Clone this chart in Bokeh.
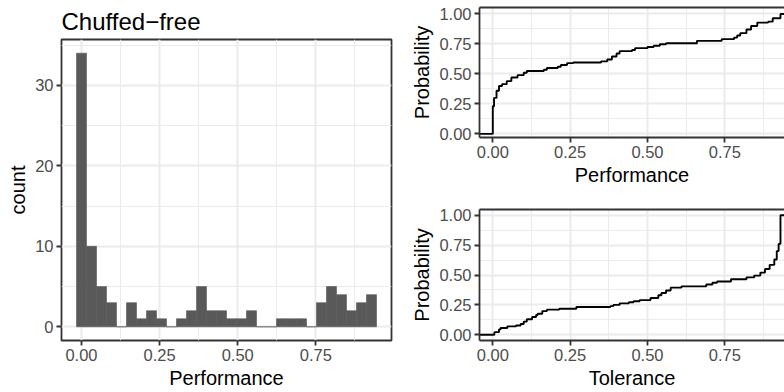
from bokeh.plotting import figure
from bokeh.layouts import row, column
from bokeh.models import Range1d, FixedTicker, LinearAxis, NumeralTickFormatter
from bokeh.embed import file_html
from bokeh.resources import INLINE

FONT = "Liberation Sans"
GRID = "#EBEBEB"
BORDER = "#333333"
TICKTXT = "#4D4D4D"
BAR = "#595959"

# ---------------- data ----------------
title_text = "Chuffed\u2212free"
hist_bin_width = 0.032
hist_first_center = 0.0
hist_counts = [34, 10, 5, 3, 0, 3, 1, 2, 1, 0,
               1, 2, 5, 2, 2, 1, 1, 2, 0, 0,
               1, 1, 1, 0, 3, 5, 4, 2, 3, 4]

perf_ecdf_x = [-0.2, 0.0, 0.004, 0.012, 0.02, 0.03, 0.045, 0.06, 0.08, 0.10,
               0.11, 0.165, 0.175, 0.21, 0.22, 0.24, 0.26, 0.35, 0.37, 0.385,
               0.40, 0.41, 0.45, 0.46, 0.50, 0.52, 0.54, 0.56, 0.66, 0.74,
               0.78, 0.79, 0.80, 0.82, 0.835, 0.855, 0.89, 0.905, 0.93, 1.2]
perf_ecdf_y = [0.0, 0.23, 0.30, 0.36, 0.40, 0.415, 0.44, 0.47, 0.49, 0.51,
               0.525, 0.535, 0.55, 0.56, 0.575, 0.59, 0.596, 0.605, 0.62, 0.645,
               0.67, 0.69, 0.70, 0.715, 0.725, 0.735, 0.748, 0.756, 0.776, 0.79,
               0.803, 0.82, 0.84, 0.87, 0.90, 0.928, 0.936, 0.964, 1.0, 1.0]

tol_ecdf_x = [-0.2, 0.005, 0.02, 0.025, 0.047, 0.075, 0.09, 0.10, 0.11, 0.127,
              0.14, 0.145, 0.16, 0.175, 0.215, 0.27, 0.38, 0.39, 0.41, 0.44,
              0.455, 0.475, 0.51, 0.535, 0.545, 0.56, 0.575, 0.61, 0.69, 0.71,
              0.725, 0.77, 0.82, 0.845, 0.865, 0.88, 0.895, 0.91, 0.918, 0.924,
              0.93, 1.2]
tol_ecdf_y = [0.0, 0.022, 0.045, 0.056, 0.07, 0.078, 0.09, 0.11, 0.13, 0.148,
              0.165, 0.176, 0.198, 0.21, 0.218, 0.232, 0.24, 0.25, 0.263, 0.272,
              0.28, 0.29, 0.307, 0.33, 0.35, 0.37, 0.394, 0.405, 0.42, 0.435,
              0.445, 0.465, 0.48, 0.495, 0.52, 0.55, 0.585, 0.63, 0.70, 0.76,
              1.0, 1.0]

perf_ticks = [0.0, 0.25, 0.5, 0.75]
perf_minor = [0.125, 0.375, 0.625, 0.875]
count_ticks = [0, 10, 20, 30]
count_minor = [5, 15, 25, 35]
prob_ticks = [0.0, 0.25, 0.5, 0.75, 1.0]
prob_minor = [0.125, 0.375, 0.625, 0.875]


def style_axes(p, xlabel, ylabel, xt, xm, yt, ym, xfmt, yfmt, axis_line=True):
    p.background_fill_color = "white"
    p.border_fill_color = "white"
    p.xaxis.ticker = FixedTicker(ticks=xt, minor_ticks=xm)
    p.yaxis.ticker = FixedTicker(ticks=yt, minor_ticks=ym)
    p.xaxis.formatter = NumeralTickFormatter(format=xfmt)
    p.yaxis.formatter = NumeralTickFormatter(format=yfmt)
    p.xaxis.axis_label = xlabel
    p.yaxis.axis_label = ylabel
    for ax in [p.xaxis[0], p.yaxis[0]]:
        ax.axis_label_text_font = FONT
        ax.axis_label_text_font_size = "20px"
        ax.axis_label_text_font_style = "normal"
        ax.axis_label_text_color = "black"
        ax.axis_label_standoff = 3
        ax.major_label_text_font = FONT
        ax.major_label_text_font_size = "16.5px"
        ax.major_label_text_color = TICKTXT
        ax.major_label_standoff = 3
        ax.major_tick_in = 0
        ax.major_tick_out = 5
        ax.major_tick_line_color = BORDER
        ax.major_tick_line_width = 1.8
        ax.minor_tick_in = 0
        ax.minor_tick_out = 0
        ax.minor_tick_line_color = None
        if axis_line:
            ax.axis_line_color = BORDER
            ax.axis_line_width = 1.8
        else:
            ax.axis_line_color = None
    for g in [p.xgrid[0], p.ygrid[0]]:
        g.grid_line_color = GRID
        g.grid_line_width = 2
        g.minor_grid_line_color = GRID
        g.minor_grid_line_width = 1


# ---------------- left: histogram ----------------
left_edges = [hist_first_center + i * hist_bin_width - hist_bin_width / 2 for i in range(len(hist_counts))]
right_edges = [e + hist_bin_width for e in left_edges]

p1 = figure(width=400, height=392, output_backend="svg", toolbar_location=None,
            x_range=Range1d(-0.064, 0.992), y_range=Range1d(-1.7, 35.7),
            min_border_left=61, min_border_right=9, min_border_top=39, min_border_bottom=52)
p1.quad(left=left_edges, right=right_edges, bottom=0, top=hist_counts,
        fill_color=BAR, line_color=BAR, line_width=0.6)
style_axes(p1, "Performance", "count", perf_ticks, perf_minor, count_ticks, count_minor,
           "0.00", "0", axis_line=False)
p1.outline_line_color = BORDER
p1.outline_line_width = 1.8
p1.title.text = title_text
p1.title.text_font = FONT
p1.title.text_font_size = "24px"
p1.title.text_font_style = "normal"
p1.title.text_color = "black"
p1.title.align = "left"
p1.title.standoff = 10


def ecdf_fig(xs, ys, xlabel, top_border, bottom_border, yr):
    p = figure(width=384, height=196, output_backend="svg", toolbar_location=None,
               x_range=Range1d(-0.043, 0.943), y_range=Range1d(*yr),
               min_border_left=79, min_border_right=0,
               min_border_top=top_border, min_border_bottom=bottom_border)
    p.step(xs, ys, mode="after", line_color="black", line_width=1.9)
    style_axes(p, xlabel, "Probability", perf_ticks, perf_minor, prob_ticks, prob_minor,
               "0.00", "0.00", axis_line=True)
    p.outline_line_color = None
    top_ax = LinearAxis(ticker=FixedTicker(ticks=[]), major_label_text_font_size="0px",
                        axis_line_color=BORDER, axis_line_width=1.8,
                        major_tick_out=0, minor_tick_out=0, major_label_standoff=0)
    p.add_layout(top_ax, "above")
    return p


p2 = ecdf_fig(perf_ecdf_x, perf_ecdf_y, "Performance", 7, 59, (-0.03, 1.054))
p3 = ecdf_fig(tol_ecdf_x, tol_ecdf_y, "Tolerance", 13, 52, (-0.048, 1.048))

layout = row(p1, column(p2, p3, spacing=0), spacing=0)

open("out.html", "w").write(file_html(layout, INLINE))
